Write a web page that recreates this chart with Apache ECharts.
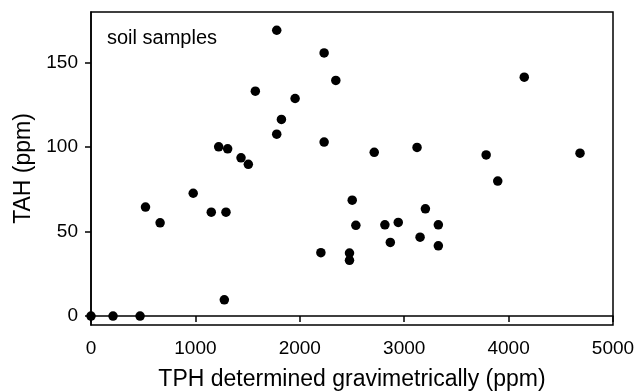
<!DOCTYPE html>
<html>
<head>
<meta charset="utf-8">
<script src="https://cdn.jsdelivr.net/npm/echarts@6/dist/echarts.min.js"></script>
<style>
  html, body { margin: 0; padding: 0; background: #fff; }
  #chart { width: 635px; height: 391px; }
</style>
</head>
<body>
<div id="chart"></div>
<script>
// TPH (gravimetric) vs TAH, soil samples
var tph = [0, 211, 470, 522, 662, 979, 1152, 1293, 1277, 1223, 1309, 1437, 1507,
  1574, 1779, 1779, 1824, 1955, 2233, 2233, 2345, 2202, 2476, 2476, 2502, 2537,
  2713, 2815, 2867, 2943, 3123, 3152, 3203, 3327, 3327, 3785, 3896, 4150, 4684];
var tah = [0, 0, 0, 64.5, 55.2, 72.7, 61.5, 61.5, 9.6, 100.2, 99, 93.7, 89.8,
  133.1, 169.2, 107.7, 116.4, 128.8, 155.8, 103, 139.5, 37.5, 37.3, 33, 68.6, 53.7,
  96.9, 54, 43.6, 55.4, 99.8, 46.7, 63.5, 54, 41.6, 95.4, 79.9, 141.4, 96.4];
var yTicks = [0, 50, 100, 150];

var points = [];
for (var i = 0; i < tph.length; i++) {
  points.push([tph[i], tah[i]]);
}

var chart = echarts.init(document.getElementById('chart'));

var font = 'Liberation Sans, Arial, sans-serif';

var option = {
  animation: false,
  backgroundColor: '#fff',
  grid: {
    left: 91,
    right: 22,
    top: 12,
    bottom: 66,
    outerBoundsMode: 'none',
    containLabel: false,
    show: true,
    borderColor: '#000',
    borderWidth: 1.5
  },
  xAxis: {
    type: 'value',
    min: 0,
    max: 5000,
    interval: 1000,
    name: 'TPH determined gravimetrically (ppm)',
    nameLocation: 'middle',
    nameGap: 43,
    nameTextStyle: { color: '#000', fontSize: 23, fontFamily: font },
    axisLine: { show: true, lineStyle: { color: '#000', width: 1.5 } },
    axisTick: { show: true, inside: false, length: 6, lineStyle: { color: '#000', width: 1.5 } },
    axisLabel: {
      color: '#000', fontSize: 19, fontFamily: font, margin: 14,
      formatter: function (v) { return String(v); }
    },
    splitLine: { show: false }
  },
  yAxis: {
    type: 'value',
    min: -5.3,
    max: 180,
    name: 'TAH (ppm)',
    nameLocation: 'middle',
    nameGap: 56,
    nameTextStyle: { color: '#000', fontSize: 23, fontFamily: font },
    axisLine: { show: true, lineStyle: { color: '#000', width: 1.5 } },
    axisTick: { show: true, inside: false, length: 6, customValues: yTicks, lineStyle: { color: '#000', width: 1.5 } },
    axisLabel: {
      color: '#000', fontSize: 19, fontFamily: font, margin: 13, customValues: yTicks,
      formatter: function (v) { return String(v); }
    },
    splitLine: { show: false }
  },
  graphic: [{
    type: 'text',
    left: 107,
    top: 28,
    style: { text: 'soil samples', fill: '#000', font: '20px ' + font }
  }],
  series: [{
    type: 'scatter',
    data: points,
    symbol: 'circle',
    symbolSize: 9.5,
    itemStyle: { color: '#000', opacity: 1 }
  }]
};

chart.setOption(option);
</script>
</body>
</html>
